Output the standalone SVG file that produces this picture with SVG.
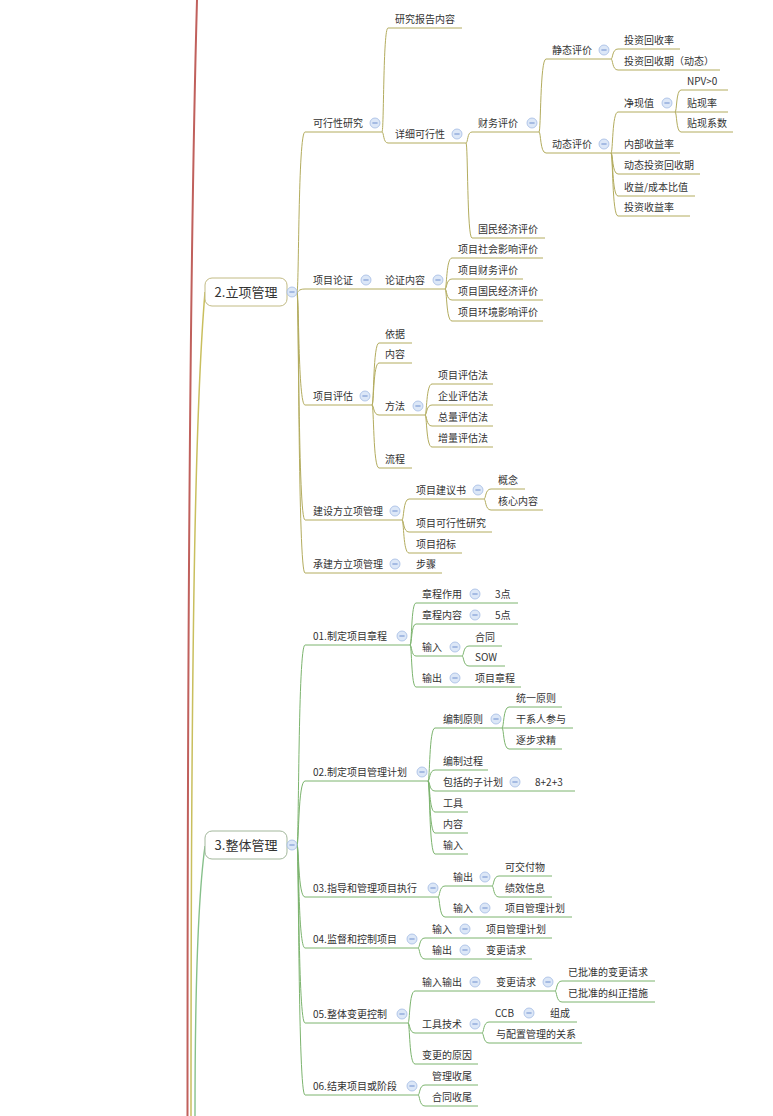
<svg xmlns="http://www.w3.org/2000/svg" xmlns:xlink="http://www.w3.org/1999/xlink" width="773" height="1116" viewBox="0 0 773 1116">
<style>
  text { font-family: "Noto Sans CJK SC", "Noto Sans", "Liberation Sans", sans-serif; font-size: 10px; fill: #333333; stroke: none; }
  text.root { font-size: 13px; text-anchor: middle; }
  .la { stroke: #b3ac5e; fill: none; stroke-width: 1; }
  .lb { stroke: #7cb46e; fill: none; stroke-width: 1; }
  .boxa { fill: #ffffff; stroke: #c2bb84; stroke-width: 1; }
  .boxb { fill: #ffffff; stroke: #a3b89c; stroke-width: 1; }
  .trunk { fill: none; }
</style>
<defs>
  <g id="btn">
    <circle cx="0" cy="0" r="5" fill="#dce7f7" stroke="#a3bbe3" stroke-width="0.8"/>
    <line x1="-2.6" y1="0" x2="2.6" y2="0" stroke="#6f8fcf" stroke-width="1"/>
  </g>
</defs>
<rect width="773" height="1116" fill="#ffffff"/>

<!-- trunks coming up from the central topic below the visible area -->
<g id="trunks" class="trunk">
  <path d="M187.5 1116 C187.5 700 190 250 197 0" stroke="#c0605c" stroke-width="2"/>
  <path d="M191 1116 C191 600 196 400 205 292" stroke="#c9bf5e" stroke-width="1.5"/>
  <path d="M195 1116 C195 980 199 890 205 846" stroke="#86c08a" stroke-width="1.4"/>
</g>

<!-- branch connectors -->
<g id="connectors">
  <g class="la">
    <path d="M297 292 C299 292 298 132 305 132"/>
    <path d="M297 292 C299 292 298 289 305 289"/>
    <path d="M297 292 C299 292 298 405 305 405"/>
    <path d="M297 292 C299 292 298 520 305 520"/>
    <path d="M297 292 C299 292 298 573 305 573"/>

    <path d="M382 132 C384 132 383 28 388 28"/>
    <path d="M382 132 C384 132 383 143 388 143"/>

    <path d="M466 143 C468 143 467 132 472 132"/>
    <path d="M466 143 C468 143 467 238 472 238"/>

    <path d="M539 132 C541 132 540 59 546 59"/>
    <path d="M539 132 C541 132 540 153 546 153"/>

    <path d="M611 59 C613 59 612 49 618 49"/>
    <path d="M611 59 C613 59 612 70 618 70"/>

    <path d="M611 153 C613 153 612 112 618 112"/>
    <path d="M611 153 L618 153"/>
    <path d="M611 153 C613 153 612 174 618 174"/>
    <path d="M611 153 C613 153 612 196 618 196"/>
    <path d="M611 153 C613 153 612 216 618 216"/>

    <path d="M675 112 C677 112 676 90 681 90"/>
    <path d="M675 112 L681 112"/>
    <path d="M675 112 C677 112 676 132 681 132"/>

    <path d="M372 289 L378 289"/>
    <path d="M445 289 C447 289 446 258 452 258"/>
    <path d="M445 289 C447 289 446 279 452 279"/>
    <path d="M445 289 C447 289 446 300 452 300"/>
    <path d="M445 289 C447 289 446 321 452 321"/>

    <path d="M372 405 C374 405 373 343 379 343"/>
    <path d="M372 405 C374 405 373 363 379 363"/>
    <path d="M372 405 C374 405 373 415 379 415"/>
    <path d="M372 405 C374 405 373 468 379 468"/>

    <path d="M425 415 C427 415 426 384 432 384"/>
    <path d="M425 415 C427 415 426 405 432 405"/>
    <path d="M425 415 C427 415 426 426 432 426"/>
    <path d="M425 415 C427 415 426 447 432 447"/>

    <path d="M402 520 C404 520 403 499 409 499"/>
    <path d="M402 520 C404 520 403 532 409 532"/>
    <path d="M402 520 C404 520 403 553 409 553"/>

    <path d="M484 499 C486 499 485 489 491 489"/>
    <path d="M484 499 C486 499 485 510 491 510"/>
  </g>
  <g class="lb">
    <path d="M297 845 C299 845 298 645 305 645"/>
    <path d="M297 845 C299 845 298 781 305 781"/>
    <path d="M297 845 C299 845 298 897 305 897"/>
    <path d="M297 845 C299 845 298 948 305 948"/>
    <path d="M297 845 C299 845 298 1023 305 1023"/>
    <path d="M297 845 C299 845 298 1095 305 1095"/>

    <path d="M410 645 C412 645 411 603 416 603"/>
    <path d="M410 645 C412 645 411 624 416 624"/>
    <path d="M410 645 C412 645 411 656 416 656"/>
    <path d="M410 645 C412 645 411 687 416 687"/>

    <path d="M462 656 C464 656 463 646 469 646"/>
    <path d="M462 656 C464 656 463 666 469 666"/>

    <path d="M428 781 C430 781 429 728 435 728"/>
    <path d="M428 781 C430 781 429 770 435 770"/>
    <path d="M428 781 C430 781 429 791 435 791"/>
    <path d="M428 781 C430 781 429 812 435 812"/>
    <path d="M428 781 C430 781 429 833 435 833"/>
    <path d="M428 781 C430 781 429 854 435 854"/>

    <path d="M502 728 C504 728 503 707 509 707"/>
    <path d="M502 728 L509 728"/>
    <path d="M502 728 C504 728 503 749 509 749"/>

    <path d="M438 897 C440 897 439 886 445 886"/>
    <path d="M438 897 C440 897 439 917 445 917"/>

    <path d="M492 886 C494 886 493 876 499 876"/>
    <path d="M492 886 C494 886 493 897 499 897"/>

    <path d="M418 948 C420 948 419 938 425 938"/>
    <path d="M418 948 C420 948 419 959 425 959"/>

    <path d="M408 1023 C410 1023 409 991 415 991"/>
    <path d="M408 1023 C410 1023 409 1033 415 1033"/>
    <path d="M408 1023 C410 1023 409 1064 415 1064"/>

    <path d="M555 991 C557 991 556 981 562 981"/>
    <path d="M555 991 C557 991 556 1002 562 1002"/>

    <path d="M482 1033 C484 1033 483 1022 489 1022"/>
    <path d="M482 1033 C484 1033 483 1043 489 1043"/>

    <path d="M418 1095 C420 1095 419 1085 425 1085"/>
    <path d="M418 1095 C420 1095 419 1106 425 1106"/>
  </g>
</g>

<!-- 2.立项管理 -->
<g id="lixiang">
  <rect class="boxa" x="205" y="278" width="82" height="28" rx="7"/>
  <text class="root" x="246" y="297">2.立项管理</text>
  <use xlink:href="#btn" x="292" y="292"/>
</g>

<g id="kexing" class="la">
  <line x1="305" y1="132" x2="382" y2="132"/>
  <text x="313" y="127">可行性研究</text>
  <use xlink:href="#btn" x="375" y="123"/>
</g>
<g id="baogao" class="la">
  <line x1="388" y1="28" x2="462" y2="28"/>
  <text x="395" y="23">研究报告内容</text>
</g>
<g id="xiangxi" class="la">
  <line x1="388" y1="143" x2="466" y2="143"/>
  <text x="395" y="138">详细可行性</text>
  <use xlink:href="#btn" x="457" y="134"/>
</g>
<g id="caiwu" class="la">
  <line x1="472" y1="132" x2="539" y2="132"/>
  <text x="478" y="127">财务评价</text>
  <use xlink:href="#btn" x="532" y="123"/>
</g>
<g id="guomin" class="la">
  <line x1="472" y1="238" x2="545" y2="238"/>
  <text x="478" y="233">国民经济评价</text>
</g>
<g id="jingtai" class="la">
  <line x1="546" y1="59" x2="611" y2="59"/>
  <text x="552" y="54">静态评价</text>
  <use xlink:href="#btn" x="604" y="50"/>
</g>
<g id="huishoulv" class="la">
  <line x1="618" y1="49" x2="680" y2="49"/>
  <text x="624" y="44">投资回收率</text>
</g>
<g id="huishouqi" class="la">
  <line x1="618" y1="70" x2="720" y2="70"/>
  <text x="624" y="65">投资回收期（动态）</text>
</g>
<g id="dongtai" class="la">
  <line x1="546" y1="153" x2="611" y2="153"/>
  <text x="552" y="148">动态评价</text>
  <use xlink:href="#btn" x="604" y="144"/>
</g>
<g id="jingxian" class="la">
  <line x1="618" y1="112" x2="675" y2="112"/>
  <text x="624" y="107">净现值</text>
  <use xlink:href="#btn" x="667" y="103"/>
</g>
<g id="npv" class="la">
  <line x1="681" y1="90" x2="728" y2="90"/>
  <text x="687" y="85">NPV&gt;0</text>
</g>
<g id="tiexianlv" class="la">
  <line x1="681" y1="112" x2="728" y2="112"/>
  <text x="687" y="107">贴现率</text>
</g>
<g id="tiexianxs" class="la">
  <line x1="681" y1="132" x2="733" y2="132"/>
  <text x="687" y="127">贴现系数</text>
</g>
<g id="neibu" class="la">
  <line x1="618" y1="153" x2="680" y2="153"/>
  <text x="624" y="148">内部收益率</text>
</g>
<g id="dthuishou" class="la">
  <line x1="618" y1="174" x2="700" y2="174"/>
  <text x="624" y="169">动态投资回收期</text>
</g>
<g id="shouyibi" class="la">
  <line x1="618" y1="196" x2="695" y2="196"/>
  <text x="624" y="191">收益/成本比值</text>
</g>
<g id="shouyilv" class="la">
  <line x1="618" y1="216" x2="690" y2="216"/>
  <text x="624" y="211">投资收益率</text>
</g>

<g id="lunzheng" class="la">
  <line x1="305" y1="289" x2="372" y2="289"/>
  <text x="313" y="284">项目论证</text>
  <use xlink:href="#btn" x="366" y="280"/>
</g>
<g id="lzneirong" class="la">
  <line x1="378" y1="289" x2="445" y2="289"/>
  <text x="385" y="284">论证内容</text>
  <use xlink:href="#btn" x="438" y="280"/>
</g>
<g id="shehui" class="la">
  <line x1="452" y1="258" x2="543" y2="258"/>
  <text x="458" y="253">项目社会影响评价</text>
</g>
<g id="xmcaiwu" class="la">
  <line x1="452" y1="279" x2="523" y2="279"/>
  <text x="458" y="274">项目财务评价</text>
</g>
<g id="xmguomin" class="la">
  <line x1="452" y1="300" x2="543" y2="300"/>
  <text x="458" y="295">项目国民经济评价</text>
</g>
<g id="huanjing" class="la">
  <line x1="452" y1="321" x2="543" y2="321"/>
  <text x="458" y="316">项目环境影响评价</text>
</g>

<g id="pinggu" class="la">
  <line x1="305" y1="405" x2="372" y2="405"/>
  <text x="313" y="400">项目评估</text>
  <use xlink:href="#btn" x="365" y="396"/>
</g>
<g id="yiju" class="la">
  <line x1="379" y1="343" x2="412" y2="343"/>
  <text x="385" y="338">依据</text>
</g>
<g id="pgneirong" class="la">
  <line x1="379" y1="363" x2="412" y2="363"/>
  <text x="385" y="358">内容</text>
</g>
<g id="fangfa" class="la">
  <line x1="379" y1="415" x2="425" y2="415"/>
  <text x="385" y="410">方法</text>
  <use xlink:href="#btn" x="418" y="406"/>
</g>
<g id="xmpg" class="la">
  <line x1="432" y1="384" x2="493" y2="384"/>
  <text x="438" y="379">项目评估法</text>
</g>
<g id="qypg" class="la">
  <line x1="432" y1="405" x2="493" y2="405"/>
  <text x="438" y="400">企业评估法</text>
</g>
<g id="zlpg" class="la">
  <line x1="432" y1="426" x2="493" y2="426"/>
  <text x="438" y="421">总量评估法</text>
</g>
<g id="zengpg" class="la">
  <line x1="432" y1="447" x2="493" y2="447"/>
  <text x="438" y="442">增量评估法</text>
</g>
<g id="liucheng" class="la">
  <line x1="379" y1="468" x2="412" y2="468"/>
  <text x="385" y="463">流程</text>
</g>

<g id="jianshe" class="la">
  <line x1="305" y1="520" x2="402" y2="520"/>
  <text x="313" y="515">建设方立项管理</text>
  <use xlink:href="#btn" x="395" y="511"/>
</g>
<g id="jianyishu" class="la">
  <line x1="409" y1="499" x2="484" y2="499"/>
  <text x="416" y="494">项目建议书</text>
  <use xlink:href="#btn" x="478" y="490"/>
</g>
<g id="gainian" class="la">
  <line x1="491" y1="489" x2="525" y2="489"/>
  <text x="498" y="484">概念</text>
</g>
<g id="hexin" class="la">
  <line x1="491" y1="510" x2="543" y2="510"/>
  <text x="498" y="505">核心内容</text>
</g>
<g id="xmkexing" class="la">
  <line x1="409" y1="532" x2="492" y2="532"/>
  <text x="416" y="527">项目可行性研究</text>
</g>
<g id="zhaobiao" class="la">
  <line x1="409" y1="553" x2="462" y2="553"/>
  <text x="416" y="548">项目招标</text>
</g>
<g id="chengjian" class="la">
  <line x1="305" y1="573" x2="402" y2="573"/>
  <text x="313" y="568">承建方立项管理</text>
  <use xlink:href="#btn" x="395" y="564"/>
</g>
<g id="buzhou" class="la">
  <line x1="402" y1="573" x2="442" y2="573"/>
  <text x="416" y="568">步骤</text>
</g>

<!-- 3.整体管理 -->
<g id="zhengti">
  <rect class="boxb" x="205" y="831" width="82" height="28" rx="7"/>
  <text class="root" x="246" y="850">3.整体管理</text>
  <use xlink:href="#btn" x="292" y="845"/>
</g>

<g id="zhangcheng" class="lb">
  <line x1="305" y1="645" x2="410" y2="645"/>
  <text x="313" y="640">01.制定项目章程</text>
  <use xlink:href="#btn" x="402" y="636"/>
</g>
<g id="zczuoyong" class="lb">
  <line x1="416" y1="603" x2="518" y2="603"/>
  <text x="422" y="598">章程作用</text>
  <use xlink:href="#btn" x="475" y="594"/>
  <text x="495" y="598">3点</text>
</g>
<g id="zcneirong" class="lb">
  <line x1="416" y1="624" x2="518" y2="624"/>
  <text x="422" y="619">章程内容</text>
  <use xlink:href="#btn" x="475" y="615"/>
  <text x="495" y="619">5点</text>
</g>
<g id="zcshuru" class="lb">
  <line x1="416" y1="656" x2="462" y2="656"/>
  <text x="422" y="651">输入</text>
  <use xlink:href="#btn" x="455" y="647"/>
</g>
<g id="hetong" class="lb">
  <line x1="469" y1="646" x2="502" y2="646"/>
  <text x="475" y="641">合同</text>
</g>
<g id="sow" class="lb">
  <line x1="469" y1="666" x2="505" y2="666"/>
  <text x="475" y="661">SOW</text>
</g>
<g id="zcshuchu" class="lb">
  <line x1="416" y1="687" x2="521" y2="687"/>
  <text x="422" y="682">输出</text>
  <use xlink:href="#btn" x="455" y="678"/>
  <text x="475" y="682">项目章程</text>
</g>

<g id="jihua" class="lb">
  <line x1="305" y1="781" x2="428" y2="781"/>
  <text x="313" y="776">02.制定项目管理计划</text>
  <use xlink:href="#btn" x="422" y="772"/>
</g>
<g id="bianzhiyz" class="lb">
  <line x1="435" y1="728" x2="502" y2="728"/>
  <text x="443" y="723">编制原则</text>
  <use xlink:href="#btn" x="496" y="719"/>
</g>
<g id="tongyi" class="lb">
  <line x1="509" y1="707" x2="562" y2="707"/>
  <text x="516" y="702">统一原则</text>
</g>
<g id="ganxiren" class="lb">
  <line x1="509" y1="728" x2="573" y2="728"/>
  <text x="516" y="723">干系人参与</text>
</g>
<g id="zhubu" class="lb">
  <line x1="509" y1="749" x2="562" y2="749"/>
  <text x="516" y="744">逐步求精</text>
</g>
<g id="bianzhigc" class="lb">
  <line x1="435" y1="770" x2="488" y2="770"/>
  <text x="443" y="765">编制过程</text>
</g>
<g id="zijihua" class="lb">
  <line x1="435" y1="791" x2="575" y2="791"/>
  <text x="443" y="786">包括的子计划</text>
  <use xlink:href="#btn" x="515" y="782"/>
  <text x="535" y="786">8+2+3</text>
</g>
<g id="gongju" class="lb">
  <line x1="435" y1="812" x2="468" y2="812"/>
  <text x="443" y="807">工具</text>
</g>
<g id="jhneirong" class="lb">
  <line x1="435" y1="833" x2="468" y2="833"/>
  <text x="443" y="828">内容</text>
</g>
<g id="jhshuru" class="lb">
  <line x1="435" y1="854" x2="468" y2="854"/>
  <text x="443" y="849">输入</text>
</g>

<g id="zhixing" class="lb">
  <line x1="305" y1="897" x2="438" y2="897"/>
  <text x="313" y="892">03.指导和管理项目执行</text>
  <use xlink:href="#btn" x="433" y="888"/>
</g>
<g id="zxshuchu" class="lb">
  <line x1="445" y1="886" x2="492" y2="886"/>
  <text x="453" y="881">输出</text>
  <use xlink:href="#btn" x="485" y="877"/>
</g>
<g id="jiaofu" class="lb">
  <line x1="499" y1="876" x2="552" y2="876"/>
  <text x="505" y="871">可交付物</text>
</g>
<g id="jixiao" class="lb">
  <line x1="499" y1="897" x2="552" y2="897"/>
  <text x="505" y="892">绩效信息</text>
</g>
<g id="zxshuru" class="lb">
  <line x1="445" y1="917" x2="572" y2="917"/>
  <text x="453" y="912">输入</text>
  <use xlink:href="#btn" x="485" y="908"/>
  <text x="505" y="912">项目管理计划</text>
</g>

<g id="jiandu" class="lb">
  <line x1="305" y1="948" x2="418" y2="948"/>
  <text x="313" y="943">04.监督和控制项目</text>
  <use xlink:href="#btn" x="412" y="939"/>
</g>
<g id="jdshuru" class="lb">
  <line x1="425" y1="938" x2="552" y2="938"/>
  <text x="432" y="933">输入</text>
  <use xlink:href="#btn" x="465" y="929"/>
  <text x="486" y="933">项目管理计划</text>
</g>
<g id="jdshuchu" class="lb">
  <line x1="425" y1="959" x2="532" y2="959"/>
  <text x="432" y="954">输出</text>
  <use xlink:href="#btn" x="465" y="950"/>
  <text x="486" y="954">变更请求</text>
</g>

<g id="biangeng" class="lb">
  <line x1="305" y1="1023" x2="408" y2="1023"/>
  <text x="313" y="1018">05.整体变更控制</text>
  <use xlink:href="#btn" x="402" y="1014"/>
</g>
<g id="bgshurushuchu" class="lb">
  <line x1="415" y1="991" x2="555" y2="991"/>
  <text x="422" y="986">输入输出</text>
  <use xlink:href="#btn" x="475" y="982"/>
  <text x="496" y="986">变更请求</text>
  <use xlink:href="#btn" x="548" y="982"/>
</g>
<g id="pizhunbg" class="lb">
  <line x1="562" y1="981" x2="655" y2="981"/>
  <text x="568" y="976">已批准的变更请求</text>
</g>
<g id="pizhunjz" class="lb">
  <line x1="562" y1="1002" x2="655" y2="1002"/>
  <text x="568" y="997">已批准的纠正措施</text>
</g>
<g id="gongjujs" class="lb">
  <line x1="415" y1="1033" x2="482" y2="1033"/>
  <text x="422" y="1028">工具技术</text>
  <use xlink:href="#btn" x="475" y="1024"/>
</g>
<g id="ccb" class="lb">
  <line x1="489" y1="1022" x2="577" y2="1022"/>
  <text x="495" y="1017">CCB</text>
  <use xlink:href="#btn" x="529" y="1013"/>
  <text x="550" y="1017">组成</text>
</g>
<g id="peizhi" class="lb">
  <line x1="489" y1="1043" x2="582" y2="1043"/>
  <text x="496" y="1038">与配置管理的关系</text>
</g>
<g id="yuanyin" class="lb">
  <line x1="415" y1="1064" x2="478" y2="1064"/>
  <text x="422" y="1059">变更的原因</text>
</g>

<g id="jieshu" class="lb">
  <line x1="305" y1="1095" x2="418" y2="1095"/>
  <text x="313" y="1090">06.结束项目或阶段</text>
  <use xlink:href="#btn" x="412" y="1086"/>
</g>
<g id="guanli" class="lb">
  <line x1="425" y1="1085" x2="478" y2="1085"/>
  <text x="432" y="1080">管理收尾</text>
</g>
<g id="hetongsw" class="lb">
  <line x1="425" y1="1106" x2="478" y2="1106"/>
  <text x="432" y="1101">合同收尾</text>
</g>
</svg>
